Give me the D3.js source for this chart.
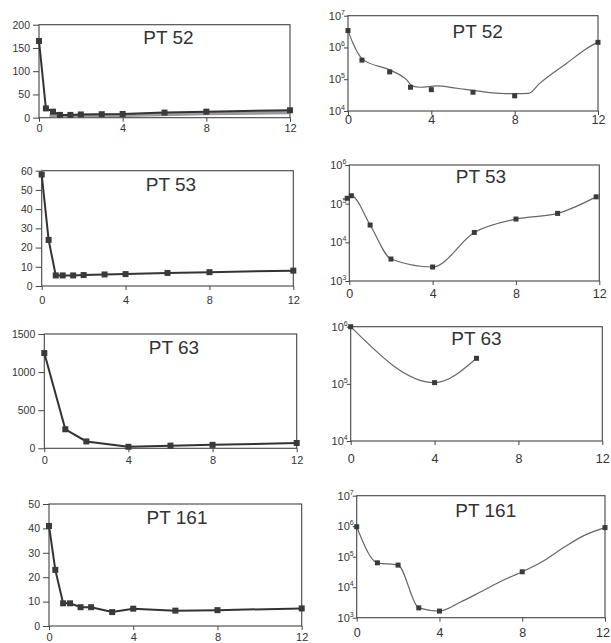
<!DOCTYPE html>
<html>
<head>
<meta charset="utf-8">
<script src="https://cdn.jsdelivr.net/npm/d3@7"></script>
<style>
  body { margin: 0; background: #fff; }
  svg { display: block; font-family: "Liberation Sans", Arial, sans-serif; }
</style>
</head>
<body>
<div id="chart"></div>
<script>
(function() {
  // x values are hours, shared tick labels for every panel
  var hourTicks = [0, 4, 8, 12];

  // PT 52
  var hours52 = [0, 0.33, 0.67, 1, 1.5, 2, 3, 4, 6, 8, 12];
  var lin52 = [165, 20, 13, 6, 6, 7, 7.5, 8, 11, 13, 16];
  var bandHours52 = [0.5, 1, 2, 4, 6, 8, 12];
  var band52 = [5, 4, 4.5, 5, 7, 9, 11];
  var logHours52 = [0, 0.67, 2, 3, 4, 6, 8, 12];
  var log52 = [3.4e6, 4e5, 1.7e5, 5.6e4, 4.7e4, 3.9e4, 3e4, 1.45e6];
  var fitHours52 = [0, 0.24, 0.69, 2.05, 2.82, 3.07, 3.46, 4.26, 5.22, 6.18, 7.3, 8.1, 8.66, 9.2, 10.5, 11.46, 12];
  var fit52 = [3.4e6, 1.35e6, 4.3e5, 1.9e5, 9.5e4, 6.2e4, 5.6e4, 6.2e4, 5.2e4, 4.3e4, 3.6e4, 3.5e4, 3.6e4, 7.4e4, 3.2e5, 9.3e5, 1.5e6];

  // PT 53
  var hours53 = [0, 0.33, 0.67, 1, 1.5, 2, 3, 4, 6, 8, 12];
  var lin53 = [58, 24, 5.5, 5.5, 5.5, 5.7, 6, 6.2, 6.8, 7.2, 8];
  var logHours53 = [-0.1, 0.1, 1, 2, 4, 6, 8, 10, 11.85];
  var log53 = [1.38e5, 1.6e5, 2.8e4, 3.7e3, 2.3e3, 1.8e4, 4e4, 5.6e4, 1.5e5];

  // PT 63
  var hours63 = [0, 1, 2, 4, 6, 8, 12];
  var lin63 = [1250, 250, 90, 20, 35, 45, 70];
  var logHours63 = [0, 4, 6];
  var log63 = [1e6, 1.05e5, 2.8e5];

  // PT 161
  var hours161 = [0, 0.3, 0.67, 1, 1.5, 2, 3, 4, 6, 8, 12];
  var lin161 = [41, 23, 9.3, 9.3, 7.7, 7.7, 5.7, 7.1, 6.3, 6.5, 7.2];
  var logHours161 = [0, 1, 2, 3, 4, 8, 12];
  var log161 = [9.6e5, 6.3e4, 5.3e4, 2.1e3, 1.65e3, 3.2e4, 9e5];
  var fitHours161 = [0, 1, 2, 3, 4, 5, 6, 7, 8, 9, 10, 11, 12];
  var fit161 = [9.6e5, 6.3e4, 5.3e4, 2.1e3, 1.65e3, 3.2e3, 7.1e3, 1.6e4, 3.2e4, 7.1e4, 2e5, 5e5, 9e5];

  var width = 611, height = 643;

  var svg = d3.select('#chart').append('svg')
    .attr('width', width)
    .attr('height', height);

  // box: left, top, right, bottom
  var panels = [
    { title: 'PT 52', box: [39, 24.7, 290, 117.7], domain: [0, 200], ticks: [0, 50, 100, 150, 200],
      tx: 168.5, ty: 44, labelDy: 14,
      band: [bandHours52, band52], line: [hours52, lin52], marks: [hours52, lin52] },
    { title: 'PT 52', log: true, box: [348, 15.7, 598, 111], domain: [1e4, 1e7], ticks: [1e4, 1e5, 1e6, 1e7],
      tx: 477.7, ty: 38.3, labelDy: 13,
      line: [fitHours52, fit52], marks: [logHours52, log52] },
    { title: 'PT 53', box: [41.7, 170.7, 293.3, 286], domain: [0, 60], ticks: [0, 10, 20, 30, 40, 50, 60],
      tx: 171, ty: 191, labelDy: 18,
      line: [hours53, lin53], marks: [hours53, lin53] },
    { title: 'PT 53', log: true, box: [349.3, 165, 599.3, 281], domain: [1e3, 1e6], ticks: [1e3, 1e4, 1e5, 1e6],
      tx: 481, ty: 183.3, labelDy: 17,
      line: [logHours53, log53], marks: [logHours53, log53] },
    { title: 'PT 63', box: [44.3, 334, 296.7, 448.3], domain: [0, 1500], ticks: [0, 500, 1000, 1500],
      tx: 174, ty: 354, labelDy: 16,
      line: [hours63, lin63], marks: [hours63, lin63] },
    { title: 'PT 63', log: true, box: [350.7, 326.7, 602.3, 441], domain: [1e4, 1e6], ticks: [1e4, 1e5, 1e6],
      tx: 476.5, ty: 345, labelDy: 22,
      line: [logHours63, log63], marks: [logHours63, log63] },
    { title: 'PT 161', box: [49, 504, 301.7, 626], domain: [0, 50], ticks: [0, 10, 20, 30, 40, 50],
      tx: 177, ty: 524.3, labelDy: 14.5,
      line: [hours161, lin161], marks: [hours161, lin161] },
    { title: 'PT 161', log: true, box: [356.7, 495.7, 605, 617.7], domain: [1e3, 1e7], ticks: [1e3, 1e4, 1e5, 1e6, 1e7],
      tx: 485.8, ty: 516.7, labelDy: 19,
      line: [fitHours161, fit161], marks: [logHours161, log161] }
  ];

  panels.forEach(function(p) {
    var g = svg.append('g');
    var b = p.box;

    var x = d3.scaleLinear().domain([0, 12]).range([b[0], b[2]]);
    var y = (p.log ? d3.scaleLog() : d3.scaleLinear()).domain(p.domain).range([b[3], b[1]]);

    g.append('rect')
      .attr('x', b[0]).attr('y', b[1])
      .attr('width', b[2] - b[0]).attr('height', b[3] - b[1])
      .attr('fill', 'none').attr('stroke', '#444').attr('stroke-width', 1.1);

    // y axis
    var yAxis = d3.axisLeft(y).tickValues(p.ticks).tickSize(p.log ? 4 : 6).tickSizeOuter(0)
      .tickFormat(p.log ? function() { return ''; } : d3.format('d'));
    var ya = g.append('g').attr('transform', 'translate(' + b[0] + ',0)').call(yAxis);
    ya.select('.domain').remove();
    ya.selectAll('.tick line').attr('stroke', '#444');
    ya.selectAll('.tick text')
      .attr('fill', '#333')
      .attr('font-family', '"Liberation Sans", Arial, sans-serif')
      .attr('font-size', p.log ? 11 : 10.5)
      .attr('x', p.log ? -3 : -9);
    if (p.log) {
      ya.selectAll('.tick text').each(function(d) {
        var t = d3.select(this);
        t.text('10');
        t.append('tspan').attr('dy', -5).attr('font-size', 7).text(Math.round(Math.log10(d)));
      });
    }

    // x axis
    var xAxis = d3.axisBottom(x).tickValues(hourTicks).tickSize(4).tickSizeOuter(0);
    var xa = g.append('g').attr('transform', 'translate(0,' + b[3] + ')').call(xAxis);
    xa.select('.domain').remove();
    xa.selectAll('.tick line').attr('stroke', '#444');
    xa.selectAll('.tick text')
      .attr('fill', '#333')
      .attr('font-family', '"Liberation Sans", Arial, sans-serif')
      .attr('font-size', p.log ? 12.5 : 11)
      .attr('y', p.labelDy)
      .attr('dy', 0)
      .attr('dx', function(d) {
        // keep the last label inside the window
        var half = p.log ? 7.5 : 6.5;
        return Math.min(0, width - 1 - (x(d) + half));
      });

    var line = d3.line()
      .x(function(d) { return x(d[0]); })
      .y(function(d) { return y(d[1]); });

    if (p.band) {
      g.append('path')
        .datum(d3.zip(p.band[0], p.band[1]))
        .attr('d', line)
        .attr('fill', 'none')
        .attr('stroke', '#9a9a9a')
        .attr('stroke-width', 3.5);
    }

    if (p.log) line.curve(d3.curveMonotoneX);

    g.append('path')
      .datum(d3.zip(p.line[0], p.line[1]))
      .attr('d', line)
      .attr('fill', 'none')
      .attr('stroke', p.log ? '#666' : '#333')
      .attr('stroke-width', p.log ? 1.2 : 2);

    var s = p.log ? 5 : 6;
    g.selectAll('rect.mark')
      .data(d3.zip(p.marks[0], p.marks[1]))
      .enter().append('rect')
      .attr('class', 'mark')
      .attr('x', function(d) { return x(d[0]) - s / 2; })
      .attr('y', function(d) { return y(d[1]) - s / 2; })
      .attr('width', s).attr('height', s)
      .attr('fill', '#3a3a3a');

    g.append('text')
      .attr('x', p.tx).attr('y', p.ty)
      .attr('text-anchor', 'middle')
      .attr('font-size', 19)
      .attr('fill', '#333')
      .text(p.title);
  });
})();
</script>
</body>
</html>
